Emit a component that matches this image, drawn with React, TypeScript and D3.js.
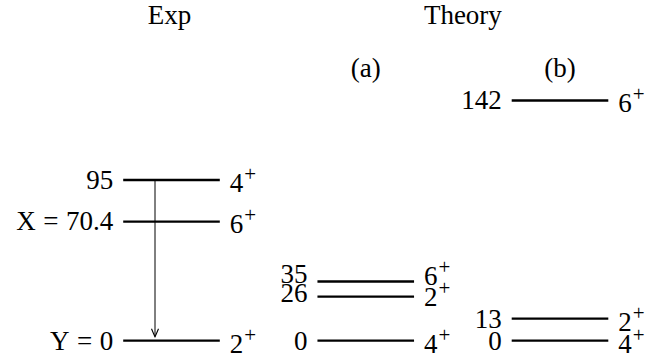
import React, { useEffect, useRef } from "react";
import * as d3 from "d3";

// columns of the level scheme
const columns = ["Exp", "a", "b"];
const columnTitles = ["Exp", "(a)", "(b)"];

// experimental levels (keV)
const expEnergies = [95, 70.4, 0];
const expLabels = ["95", "X = 70.4", "Y = 0"];
const expSpins = ["4", "6", "2"];

// theory (a)
const aEnergies = [35, 26, 0];
const aLabels = ["35", "26", "0"];
const aSpins = ["6", "2", "4"];
const aLeftShift = [-6.8, -3.8, 0];
const aRightShift = [-8, -2.5, 0];

// theory (b)
const bEnergies = [142, 13, 0];
const bLabels = ["142", "13", "0"];
const bSpins = ["6", "2", "4"];

// transition arrow (Exp column), from 95 down to 0
const arrowFrom = 95;
const arrowTo = 0;

function App() {
    const ref = useRef(null);

    useEffect(() => {
        const width = 649;
        const height = 358;
        const fontSize = 27;
        const font = "'Liberation Serif', 'Times New Roman', serif";
        const halfLine = 48.3;
        const digitHalf = 8.8;

        const svg = d3.select(ref.current);
        svg.selectAll("*").remove();

        const x = d3.scalePoint().domain(columns).range([171.5, 560]);
        const y = d3.scaleLinear().domain([0, 142]).range([340.7, 100.5]);

        const groups = [
            { col: "Exp", e: expEnergies, l: expLabels, s: expSpins, ls: [0, 0, 0], rs: [0, 0, 0] },
            { col: "a", e: aEnergies, l: aLabels, s: aSpins, ls: aLeftShift, rs: aRightShift },
            { col: "b", e: bEnergies, l: bLabels, s: bSpins, ls: [0, 0, 0], rs: [0, 0, 0] },
        ];

        const root = svg.append("g").attr("font-family", font).attr("font-size", fontSize).attr("fill", "#000");

        // titles
        root.append("text")
            .attr("x", x("Exp") - 2)
            .attr("y", 23.5)
            .attr("text-anchor", "middle")
            .text(columnTitles[0]);
        root.append("text")
            .attr("x", (x("a") + x("b")) / 2)
            .attr("y", 23.5)
            .attr("text-anchor", "middle")
            .text("Theory");
        ["a", "b"].forEach((c, i) => {
            root.append("text")
                .attr("x", x(c))
                .attr("y", 77)
                .attr("text-anchor", "middle")
                .text(columnTitles[i + 1]);
        });

        groups.forEach((g) => {
            const cx = x(g.col);
            const levels = g.e.map((e, i) => ({ e, label: g.l[i], spin: g.s[i], ls: g.ls[i], rs: g.rs[i] }));
            const lg = root.append("g");

            lg.selectAll("line")
                .data(levels)
                .join("line")
                .attr("x1", cx - halfLine)
                .attr("x2", cx + halfLine)
                .attr("y1", (d) => y(d.e))
                .attr("y2", (d) => y(d.e))
                .attr("stroke", "#000")
                .attr("stroke-width", 2.3);

            const energyText = lg.selectAll("text.energy")
                .data(levels)
                .join("text")
                .attr("class", "energy")
                .attr("x", cx - halfLine - 10)
                .attr("y", (d) => y(d.e) + digitHalf + d.ls)
                .attr("text-anchor", "end");
            energyText.each(function (d) {
                const t = d3.select(this);
                const parts = d.label.split(" = ");
                if (parts.length === 2) {
                    t.append("tspan").text(parts[0]);
                    t.append("tspan").attr("dx", 7.5).text("=");
                    t.append("tspan").attr("dx", 7.5).text(parts[1]);
                } else {
                    t.text(d.label);
                }
            });

            const spinText = lg.selectAll("text.spin")
                .data(levels)
                .join("text")
                .attr("class", "spin")
                .attr("x", cx + halfLine + 10)
                .attr("y", (d) => y(d.e) + digitHalf + 3 + d.rs);
            spinText.append("tspan").text((d) => d.spin);
            spinText.append("tspan")
                .attr("dx", 1)
                .attr("dy", -11)
                .attr("font-size", 21)
                .text("+");
        });

        // arrow
        const ax = x("Exp") - 16.5;
        const y0 = y(arrowFrom);
        const y1 = y(arrowTo) - 4;
        root.append("line")
            .attr("x1", ax)
            .attr("x2", ax)
            .attr("y1", y0)
            .attr("y2", y1)
            .attr("stroke", "#000")
            .attr("stroke-width", 1);
        root.append("path")
            .attr("d", `M${ax - 3.5},${y1 - 8} Q${ax - 1},${y1 - 2} ${ax},${y1} Q${ax + 1},${y1 - 2} ${ax + 3.5},${y1 - 8}`)
            .attr("fill", "none")
            .attr("stroke", "#000")
            .attr("stroke-width", 1.1);

        svg.attr("width", width).attr("height", height);
    }, []);

    return (
        <svg
            ref={ref}
            width={649}
            height={358}
            viewBox="0 0 649 358"
            style={{ position: "absolute", left: 0, top: 0, background: "#fff" }}
        />
    );
}

export default App;
